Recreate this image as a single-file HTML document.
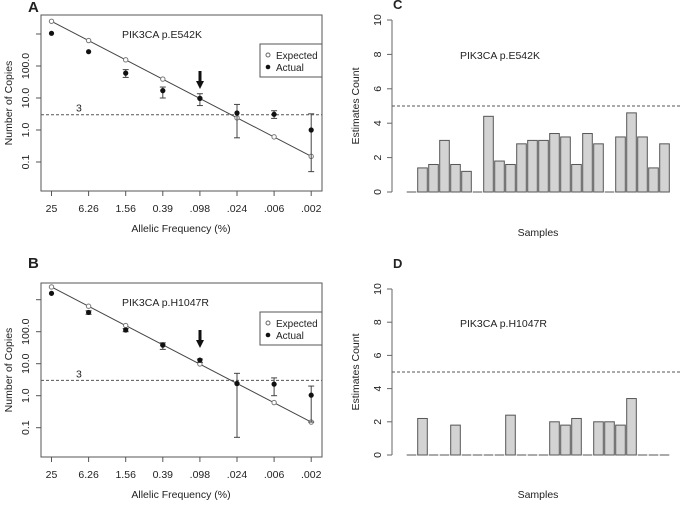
<!DOCTYPE html>
<html><head><meta charset="utf-8"><style>
html,body{margin:0;padding:0;background:#fff}
svg{display:block}
text{font-family:"Liberation Sans",sans-serif;fill:#222}
</style></head><body>
<svg id="s" width="680" height="506" viewBox="0 0 680 506"></svg>
<script>
const freqLabels=["25","6.26","1.56","0.39",".098",".024",".006",".002"];
const expected=[2500,625,156,39,9.8,2.4,0.61,0.15];
const actualA=[1050,280,60,17,9.7,3.4,3.1,1.0];
const errLoA=[null,null,44,10,5.8,0.57,2.3,0.05];
const errHiA=[null,null,77,22,13.6,6.3,4.0,3.2];
const actualB=[1580,400,113,38,13,2.4,2.3,1.04];
const errLoB=[null,350,100,28,11,0.05,1.0,0.15];
const errHiB=[null,450,125,45,14,5.0,3.6,2.0];
const yTickVals=[1000,100,10,1,0.1];
const yTickLabels=["","100.0","10.0","1.0","0.1"];
const barsC=[0,1.4,1.6,3,1.6,1.2,0,4.4,1.8,1.6,2.8,3,3,3.4,3.2,1.6,3.4,2.8,0,3.2,4.6,3.2,1.4,2.8];
const barsD=[0,2.2,0,0,1.8,0,0,0,0,2.4,0,0,0,2,1.8,2.2,0,2,2,1.8,3.4,0,0,0];
const countTicks=[0,2,4,6,8,10];
const threshold=3, countThreshold=5;

const svg=document.getElementById('s');
const NS="http://www.w3.org/2000/svg";
function mk(tag,attrs,name,parent){const e=document.createElementNS(NS,tag);for(const k in attrs)e.setAttribute(k,attrs[k]);


(parent||svg).appendChild(e);return e;}
function txt(x,y,s,name,opt){const t=mk('text',Object.assign({x:x,y:y,'font-size':11},opt||{}),name);t.textContent=s;return t;}

function linePanel(p){
  const g=mk('g',{},p.id+'-panel');
  const x=i=>51.5+i*37.1;
  const y=v=>p.y100-(Math.log10(v)-2)*32;
  mk('rect',{x:41,y:p.top,width:281,height:p.bottom-p.top,fill:'none',stroke:'#555','stroke-width':1},p.id+'-plot-frame',g);
  txt(28,p.letterY,p.letter,p.id+'-panel-letter',{'font-size':15,'font-weight':'bold',fill:'#111'});
  yTickVals.forEach((v,i)=>{mk('line',{x1:36,x2:41,y1:y(v),y2:y(v),stroke:'#555'},'y-tick',g);
    if(yTickLabels[i]){txt(29,y(v),yTickLabels[i],'y-tick-label',{'text-anchor':'middle',transform:`rotate(-90 29 ${y(v)})`,'font-size':10.5});}});
  freqLabels.forEach((l,i)=>{mk('line',{x1:x(i),x2:x(i),y1:p.bottom,y2:p.bottom+5,stroke:'#555'},'x-tick',g);
    txt(x(i),p.bottom+21,l,'x-tick-label',{'text-anchor':'middle','font-size':10.5});});
  txt(181,p.bottom+41,'Allelic Frequency (%)','x-axis-title',{'text-anchor':'middle','font-size':10.5});
  const yc=(p.top+p.bottom)/2;
  txt(12,yc,'Number of Copies','y-axis-title',{'text-anchor':'middle',transform:`rotate(-90 12 ${yc})`,'font-size':10.5});
  mk('line',{x1:41,x2:322,y1:y(threshold),y2:y(threshold),stroke:'#555','stroke-dasharray':'3,2'},'threshold-line',g);
  txt(76,y(threshold)-3,'3','threshold-label',{'font-size':10.5});
  mk('line',{x1:x(0),y1:y(expected[0]),x2:x(7),y2:y(expected[7]),stroke:'#444'},'expected-fit-line',g);
  expected.forEach((v,i)=>mk('circle',{cx:x(i),cy:y(v),r:2.2,fill:'#fff',stroke:'#777'},'expected-point',g));
  p.actual.forEach((v,i)=>{
    if(p.lo[i]!=null){const a=y(p.lo[i]),b=y(p.hi[i]);
      mk('line',{x1:x(i),x2:x(i),y1:a,y2:b,stroke:'#444'},'error-bar',g);
      mk('line',{x1:x(i)-3,x2:x(i)+3,y1:a,y2:a,stroke:'#444'},'error-cap',g);
      mk('line',{x1:x(i)-3,x2:x(i)+3,y1:b,y2:b,stroke:'#444'},'error-cap',g);}
    mk('circle',{cx:x(i),cy:y(v),r:2.6,fill:'#111'},'actual-point',g);});
  mk('line',{x1:200,x2:200,y1:p.arrow,y2:p.arrow+12,stroke:'#111','stroke-width':3},'arrow-shaft',g);
  mk('path',{d:`M196 ${p.arrow+10} L200 ${p.arrow+18} L204 ${p.arrow+10} Z`,fill:'#111'},'arrow-head',g);
  txt(122,p.top+23,p.title,'gene-title',{'font-size':10.5});
  const ly=p.top+29;
  mk('rect',{x:260,y:ly,width:62,height:33,fill:'#fff',stroke:'#555'},'legend-box',g);
  mk('circle',{cx:268,cy:ly+11,r:2,fill:'#fff',stroke:'#666'},'legend-expected-marker',g);
  txt(276,ly+15,'Expected','legend-expected-label',{'font-size':10});
  mk('circle',{cx:268,cy:ly+23,r:2.3,fill:'#111'},'legend-actual-marker',g);
  txt(276,ly+27,'Actual','legend-actual-label',{'font-size':10});
}
linePanel({id:'a',letter:'A',letterY:12,top:15,bottom:191,y100:66,actual:actualA,lo:errLoA,hi:errHiA,arrow:71,title:'PIK3CA p.E542K'});
linePanel({id:'b',letter:'B',letterY:268,top:283,bottom:457,y100:331.7,actual:actualB,lo:errLoB,hi:errHiB,arrow:330,title:'PIK3CA p.H1047R'});

function barPanel(p){
  const g=mk('g',{},p.id+'-panel');
  const y=v=>p.y0-v*p.k;
  const x=i=>406.7+i*11;
  txt(393,p.letterY,p.letter,p.id+'-panel-letter',{'font-size':13,'font-weight':'bold',fill:'#111'});
  mk('line',{x1:392,x2:392,y1:y(0),y2:y(10),stroke:'#666'},'y-axis-line',g);
  countTicks.forEach(v=>{mk('line',{x1:387,x2:392,y1:y(v),y2:y(v),stroke:'#666'},'y-tick',g);
    txt(381,y(v),String(v),'y-tick-label',{'text-anchor':'middle',transform:`rotate(-90 381 ${y(v)})`,'font-size':10.5});});
  const yc=(y(0)+y(10))/2;
  txt(359,yc,'Estimates Count','y-axis-title',{'text-anchor':'middle',transform:`rotate(-90 359 ${yc})`,'font-size':10.5});
  mk('line',{x1:392,x2:680,y1:y(countThreshold),y2:y(countThreshold),stroke:'#555','stroke-dasharray':'3,2'},'threshold-line',g);
  p.data.forEach((v,i)=>{
    if(v>0)mk('rect',{x:x(i),y:y(v),width:9.6,height:v*p.k,fill:'#d3d3d3',stroke:'#555'},'bar',g);
    else mk('line',{x1:x(i),x2:x(i)+9.6,y1:y(0),y2:y(0),stroke:'#555'},'bar-zero',g);});
  txt(460,p.titleY,p.title,'gene-title',{'font-size':10.5});
  txt(538,p.samplesY,'Samples','x-axis-title',{'text-anchor':'middle','font-size':10.5});
}
barPanel({id:'c',letter:'C',letterY:9,y0:192,y10:20,k:17.2,data:barsC,title:'PIK3CA p.E542K',titleY:59,samplesY:236});
barPanel({id:'d',letter:'D',letterY:268,y0:455,y10:289,k:16.6,data:barsD,title:'PIK3CA p.H1047R',titleY:327,samplesY:498});
</script>
</body></html>
